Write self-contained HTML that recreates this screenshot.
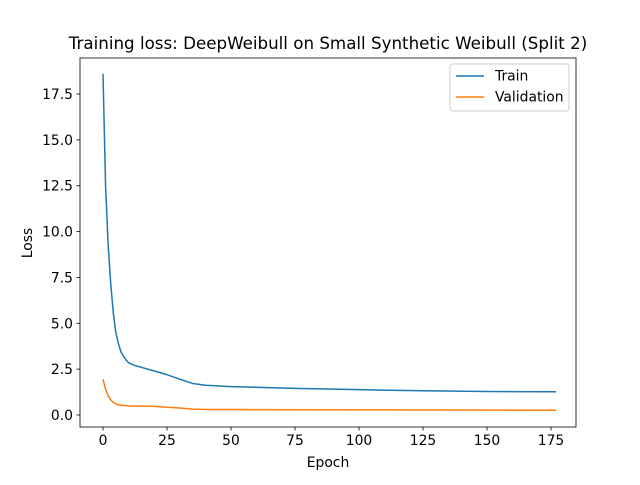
<!DOCTYPE html>
<html><head><meta charset="utf-8"><style>
body{margin:0;background:#fff}
svg{font-family:"DejaVu Sans","Liberation Sans",sans-serif}
</style></head><body>
<svg id="c" width="640" height="480" viewBox="0 0 640 480">
<rect width="640" height="480" fill="#fff"/>
<text x="328" y="49" font-size="16.7" text-anchor="middle">Training loss: DeepWeibull on Small Synthetic Weibull (Split 2)</text>
<g id="grid"></g>
<g id="series"></g>
<rect x="80" y="58" width="496" height="369" fill="none" stroke="#000" stroke-width="0.8"/>
<text x="328" y="467" font-size="13.9" text-anchor="middle">Epoch</text>
<text transform="translate(32,243) rotate(-90)" font-size="13.9" text-anchor="middle">Loss</text>
<g>
<rect x="450" y="64" width="119" height="47" rx="3" fill="#fff" fill-opacity="0.8" stroke="#ccc"/>
<line x1="456" y1="76" x2="484" y2="76" stroke="#1f77b4" stroke-width="1.5"/>
<text x="495" y="80.5" font-size="13.9">Train</text>
<line x1="456" y1="97" x2="484" y2="97" stroke="#ff7f0e" stroke-width="1.5"/>
<text x="495" y="101.5" font-size="13.9">Validation</text>
</g>
</svg>
<script>
const xTicks=[0,25,50,75,100,125,150,175];
const yTicks=[0,2.5,5,7.5,10,12.5,15,17.5];
const yTickLabels=["0.0","2.5","5.0","7.5","10.0","12.5","15.0","17.5"];
const trainEpochs=[0,1,2,3,4,5,6,7,8,9,10,12,15,20,25,30,35,40,50,75,100,125,150,177];
const trainLoss=[18.6,12.5,9.3,7.2,5.6,4.5,3.9,3.45,3.2,3.0,2.85,2.72,2.6,2.4,2.2,1.95,1.72,1.62,1.55,1.45,1.38,1.32,1.28,1.27];
const valEpochs=[0,1,2,3,4,5,6,8,10,20,25,30,35,40,50,100,177];
const valLoss=[1.95,1.4,1.05,0.82,0.68,0.6,0.55,0.52,0.5,0.47,0.42,0.38,0.32,0.3,0.3,0.28,0.26];
const NS="http://www.w3.org/2000/svg";
const sx=v=>103+v*(448/175);
const sy=v=>415-v*(321/17.5);
const g=document.getElementById('grid');
function el(t,a,p){const e=document.createElementNS(NS,t);for(const k in a)e.setAttribute(k,a[k]);p.appendChild(e);return e;}
xTicks.forEach(t=>{
  const l=el('line',{x1:sx(t),x2:sx(t),y1:427,y2:430.5,stroke:'#000','stroke-width':0.8},g);
  
  
  const tx=el('text',{x:sx(t),y:445,'font-size':13.9,'text-anchor':'middle'},g);tx.textContent=t;
  
  
});
yTicks.forEach((t,i)=>{
  const l=el('line',{x1:76.5,x2:80,y1:sy(t),y2:sy(t),stroke:'#000','stroke-width':0.8},g);
  
  
  const tx=el('text',{x:73,y:sy(t)+5,'font-size':13.9,'text-anchor':'end'},g);tx.textContent=yTickLabels[i];
  
  
});
const s=document.getElementById('series');
function line(xs,ys,c,n){
  const p=el('polyline',{points:xs.map((x,i)=>sx(x)+','+sy(ys[i])).join(' '),fill:'none',stroke:c,'stroke-width':1.5,'stroke-linejoin':'round'},s);
  
  
}
line(trainEpochs,trainLoss,'#1f77b4','train-line');
line(valEpochs,valLoss,'#ff7f0e','validation-line');
</script>
</body></html>
